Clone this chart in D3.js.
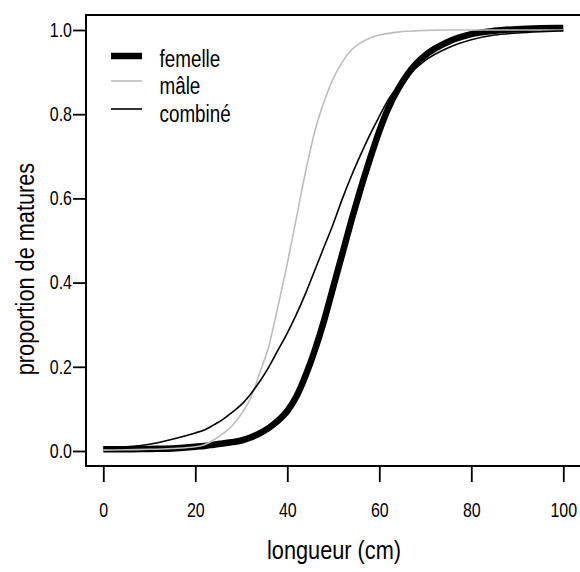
<!DOCTYPE html>
<html>
  <head>
    <meta charset="utf-8">
    <title></title>
    <style type="text/css">
        html, body{
            padding: 0px;
            margin: 0px;
            background: #fff;
        }
        svg text{
            font-family: "Liberation Sans", Arial, sans-serif;
            fill: #000;
        }
    </style>
  </head>
  <body>
    <div id="vis"></div>
    <script src="https://cdnjs.cloudflare.com/ajax/libs/d3/7.8.5/d3.min.js"></script>
    <script type="text/javascript">

        // longueurs (cm) where the curves were read
        var longueurs = [0, 5, 10, 15, 20, 22, 24, 26, 28, 30, 32, 34, 36, 38, 40, 42, 44, 46, 48,
                         50, 52, 54, 56, 58, 60, 62, 64, 66, 68, 70, 75, 80, 85, 90, 95, 100];

        var femelle = [0.004, 0.004, 0.005, 0.006, 0.010, 0.012, 0.015, 0.018, 0.021, 0.025, 0.032, 0.042,
                       0.055, 0.072, 0.095, 0.13, 0.18, 0.24, 0.31, 0.39, 0.47, 0.55, 0.625, 0.695,
                       0.76, 0.815, 0.858, 0.893, 0.92, 0.94, 0.972, 0.99, 0.998, 1.002, 1.004, 1.005];

        var male = [0.002, 0.003, 0.004, 0.006, 0.010, 0.015, 0.026, 0.041, 0.060, 0.088, 0.125, 0.185,
                    0.25, 0.345, 0.445, 0.555, 0.665, 0.76, 0.83, 0.885, 0.925, 0.953, 0.97, 0.981,
                    0.988, 0.992, 0.995, 0.997, 0.998, 0.999, 1, 1, 1, 1, 1, 1];

        var combine = [0.008, 0.010, 0.016, 0.028, 0.043, 0.05, 0.062, 0.075, 0.092, 0.11, 0.135, 0.165,
                       0.20, 0.24, 0.28, 0.325, 0.375, 0.43, 0.485, 0.54, 0.60, 0.655, 0.705, 0.752,
                       0.795, 0.835, 0.865, 0.89, 0.91, 0.928, 0.958, 0.977, 0.988, 0.993, 0.996, 0.998];

        var xTicks = [0, 20, 40, 60, 80, 100];
        var yTicks = [0, 0.2, 0.4, 0.6, 0.8, 1.0];

        var series = [
            {name: "femelle", values: femelle, color: "#000", width: 6.5},
            {name: "mâle", values: male, color: "#bdbdbd", width: 1.6},
            {name: "combiné", values: combine, color: "#000", width: 1.6}
        ];

        // no narrow font installed, so squeeze the regular one
        var narrow = 0.82;

        var width = 580, height = 572;
        var box = {left: 86, top: 15, bottom: 466, right: 600};

        var x = d3.scaleLinear().domain([0, 100]).range([103.3, 563.3]);
        var y = d3.scaleLinear().domain([0, 1]).range([451, 30]);

        var svg = d3.select("#vis").append("svg")
            .attr("width", width)
            .attr("height", height);

        // plotting region frame
        svg.append("rect")
            .attr("x", box.left)
            .attr("y", box.top)
            .attr("width", box.right - box.left)
            .attr("height", box.bottom - box.top)
            .attr("fill", "none")
            .attr("stroke", "#000")
            .attr("stroke-width", 2);

        var plot = svg.append("g");

        var line = d3.line()
            .x(function(d){ return x(d[0]); })
            .y(function(d){ return y(d[1]); })
            .curve(d3.curveMonotoneX);

        series.forEach(function(s){
            plot.append("path")
                .datum(longueurs.map(function(l, i){ return [l, s.values[i]]; }))
                .attr("d", line)
                .attr("fill", "none")
                .attr("stroke", s.color)
                .attr("stroke-width", s.width)
                .attr("stroke-linejoin", "round");
        });

        // x axis, ticks hang below the frame
        var xAxis = svg.append("g")
            .attr("transform", "translate(0," + (box.bottom + 1) + ")")
            .call(d3.axisBottom(x).tickValues(xTicks).tickSize(15).tickPadding(21)
                .tickFormat(d3.format("d")));
        xAxis.select(".domain").remove();
        xAxis.selectAll(".tick line").attr("stroke-width", 1.8);
        xAxis.selectAll(".tick text")
            .attr("transform", "scale(" + narrow + ",1)");

        var yAxis = svg.append("g")
            .attr("transform", "translate(" + box.left + ",0)")
            .call(d3.axisLeft(y).tickValues(yTicks).tickSize(13).tickPadding(1)
                .tickFormat(d3.format(".1f")));
        yAxis.select(".domain").remove();
        yAxis.selectAll(".tick line").attr("stroke-width", 1.8);
        yAxis.selectAll(".tick text")
            .attr("x", -14 / narrow)
            .attr("transform", "scale(" + narrow + ",1)");

        svg.selectAll(".tick text")
            .attr("font-family", null)
            .attr("font-size", null)
            .style("font-size", "19.5px");

        // legend
        var legend = svg.append("g");
        var legY = [56, 81, 109];
        var legText = [66.5, 94, 121.5];
        series.forEach(function(s, i){
            legend.append("line")
                .attr("x1", 111).attr("x2", 142)
                .attr("y1", legY[i]).attr("y2", legY[i])
                .attr("stroke", s.color)
                .attr("stroke-width", s.width);
            legend.append("text")
                .attr("transform", "translate(159.5," + legText[i] + ") scale(" + narrow + ",1)")
                .style("font-size", "23px")
                .text(s.name);
        });

        // axis titles
        svg.append("text")
            .attr("transform", "translate(334,559) scale(" + narrow + ",1)")
            .attr("text-anchor", "middle")
            .style("font-size", "26.5px")
            .text("longueur (cm)");

        svg.append("text")
            .attr("transform", "translate(34,269) rotate(-90) scale(" + narrow + ",1)")
            .attr("text-anchor", "middle")
            .style("font-size", "26.5px")
            .text("proportion de matures");

    </script>
  </body>
</html>
